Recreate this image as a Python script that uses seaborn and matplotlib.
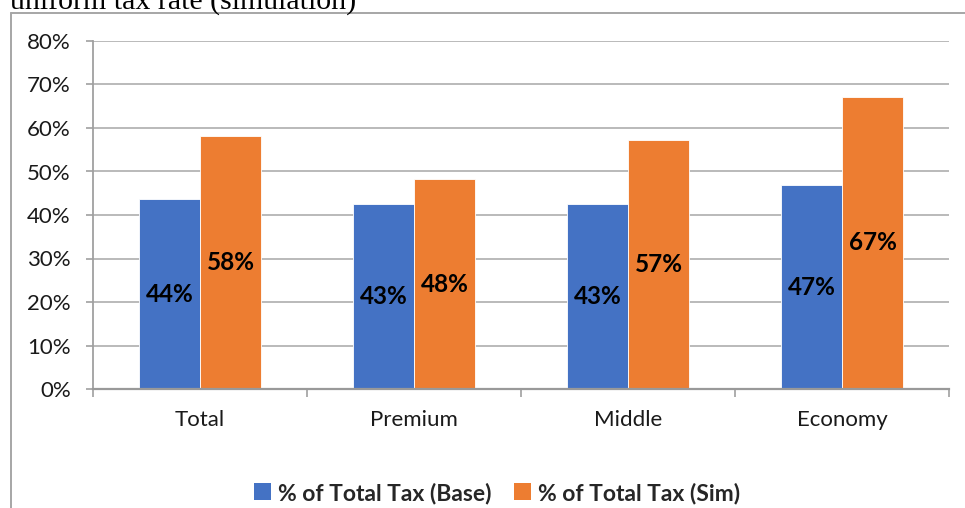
import matplotlib
matplotlib.use("Agg")
import matplotlib.pyplot as plt
from matplotlib.lines import Line2D
from matplotlib.patches import Patch
import seaborn as sns
import pandas as pd

# Share of total tax by segment, base case vs. uniform-rate simulation (%)
segments = ["Total", "Premium", "Middle", "Economy"]
base_share = [43.6, 42.6, 42.6, 46.8]
sim_share = [58.2, 48.2, 57.2, 67.2]
series_names = ["% of Total Tax (Base)", "% of Total Tax (Sim)"]
y_ticks = [0, 10, 20, 30, 40, 50, 60, 70, 80]

BLUE = "#4472C4"
ORANGE = "#ED7D31"
GRID = "#b4b4b4"
AXIS = "#a0a0a0"
FRAME = "#a6a6a6"

df = pd.DataFrame({
    "segment": segments * 2,
    "share": base_share + sim_share,
    "series": [series_names[0]] * len(segments) + [series_names[1]] * len(segments),
})

sns.set_theme(style="white")
plt.rcParams["font.family"] = ["Lato", "DejaVu Sans"]

W, H = 965, 508
fig = plt.figure(figsize=(W / 100, H / 100), dpi=100)
ax = fig.add_axes([93 / W, (H - 389) / H, (949 - 93) / W, (389 - 41) / H])

sns.barplot(data=df, x="segment", y="share", hue="series", order=segments,
            hue_order=series_names, palette=[BLUE, ORANGE], saturation=1,
            width=0.57, gap=0, edgecolor="white", linewidth=0.6,
            legend=False, ax=ax, zorder=3)

for container, vals in zip(ax.containers, [base_share, sim_share]):
    ax.bar_label(container, labels=[f"{v:.0f}%" for v in vals],
                 label_type="center", fontsize=17.5, fontweight="bold",
                 color="black")

ax.set_ylim(0, 80)
ax.set_xlim(-0.5, len(segments) - 0.5)
ax.set_yticks(y_ticks)
ax.set_yticklabels([f"{t}%" for t in y_ticks], fontsize=16, color="#1a1a1a")
ax.set_xticks(range(len(segments)))
ax.set_xticklabels(segments, fontsize=16, color="#1a1a1a")
ax.set_xticks([i - 0.5 for i in range(len(segments) + 1)], minor=True)
ax.set_xlabel("")
ax.set_ylabel("")

ax.yaxis.grid(True, color=GRID, linewidth=1.3, zorder=0)
ax.set_axisbelow(True)
for side in ["top", "right"]:
    ax.spines[side].set_visible(False)
ax.spines["left"].set_color(AXIS)
ax.spines["left"].set_linewidth(1.3)
ax.spines["bottom"].set_color("#999999")
ax.spines["bottom"].set_linewidth(1.6)
ax.spines["left"].set_zorder(4)
ax.spines["bottom"].set_zorder(4)

ax.tick_params(axis="y", which="major", length=5, width=1.2, color=AXIS,
               pad=11, left=True, direction="out")
ax.tick_params(axis="x", which="major", length=0, pad=15)
ax.tick_params(axis="x", which="minor", length=5.5, width=1.2, color=AXIS,
               bottom=True, direction="out")

# Legend below the category labels
handles = [Patch(facecolor=BLUE, edgecolor="none"),
           Patch(facecolor=ORANGE, edgecolor="none")]
fig.legend(handles, series_names, loc="center", ncol=2, frameon=False,
           bbox_to_anchor=(497 / W, 1 - 493 / H), handlelength=0.75,
           handleheight=0.75, handletextpad=0.3, columnspacing=1.0,
           prop={"family": ["Lato", "DejaVu Sans"], "weight": "bold", "size": 16.5})

# Surrounding chart frame (left and top edges)
fig.add_artist(Line2D([11 / W, 11 / W], [0, 1 - 13 / H], transform=fig.transFigure,
                      color=FRAME, linewidth=1.4))
fig.add_artist(Line2D([11 / W, 1], [1 - 13 / H, 1 - 13 / H], transform=fig.transFigure,
                      color=FRAME, linewidth=1.4))

# Caption line running off the top edge
fig.text(10 / W, 1 - 9.5 / H, "uniform tax rate (simulation)",
         family=["Liberation Serif", "DejaVu Serif"], fontsize=21.5,
         va="baseline", ha="left", color="black")

fig.savefig("out.png", dpi=100)
